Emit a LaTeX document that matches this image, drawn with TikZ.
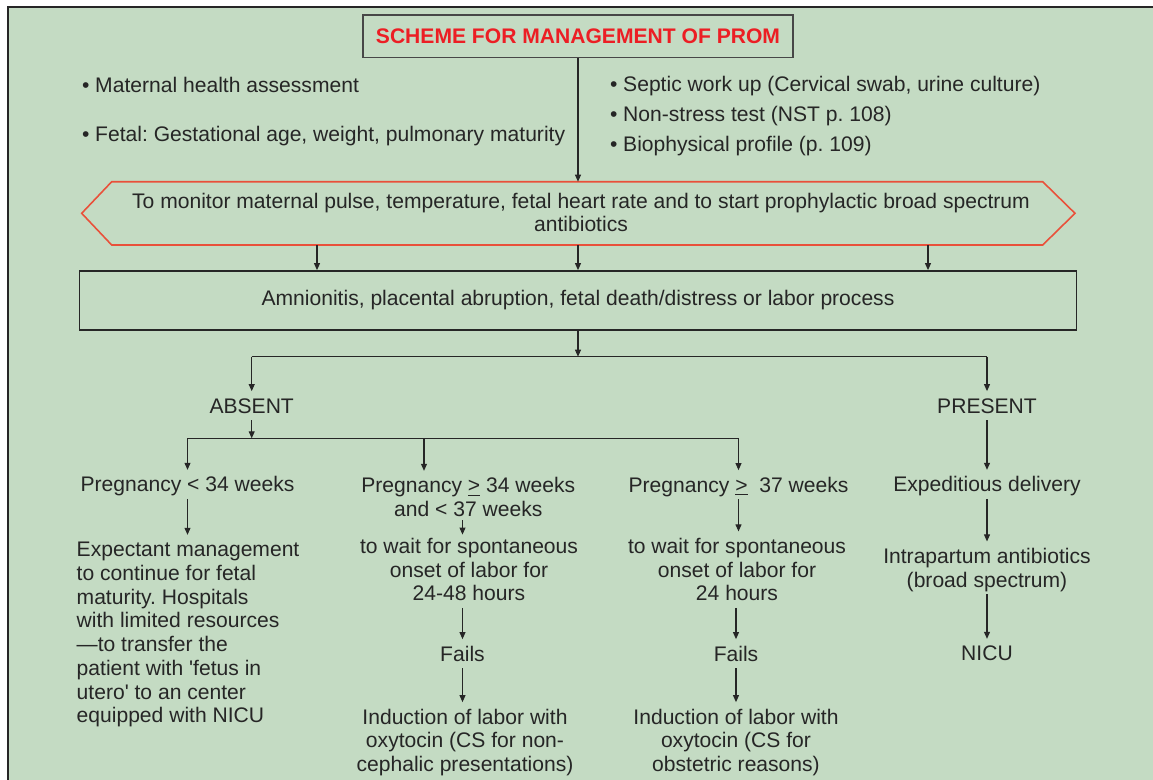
\documentclass[tikz,border=0pt]{standalone}
\usepackage{fontspec}
\setmainfont{Liberation Sans}
\usepackage{tikz}
\usetikzlibrary{calc}
\usetikzlibrary{arrows.meta}
\usepackage{xcolor}
\definecolor{bggreen}{RGB}{196,219,195}
\definecolor{hexred}{RGB}{233,80,58}
\definecolor{titlered}{RGB}{236,30,36}
\definecolor{ink}{RGB}{38,38,38}
\frenchspacing
\newcommand{\txtrows}[2][c]{\begin{tabular}[t]{@{}#1@{}}#2\end{tabular}}

\begin{document}
\begin{tikzpicture}[x=0.02cm, y=-0.02cm,
    txt/.style={inner sep=0pt, outer sep=0pt, anchor=base, text=ink, font=\fontsize{12}{13.5}\selectfont},
    arr/.style={draw=ink, line width=0.6pt, -{Triangle[length=4pt,width=3.4pt]}},
    arrt/.style={arr, shorten >=3pt},
    rail/.style={draw=ink, line width=0.6pt}]
    \useasboundingbox (0,0) rectangle (1153,779);
    \clip (0,0) rectangle (1153,779);
    % Frame
    \draw[line width=1.5pt, draw=ink, fill=bggreen] (8,7) rectangle (1200,830);

    % Title
    \node[draw=ink!85, line width=0.9pt, minimum width=8.6cm, minimum height=0.85cm, inner sep=0pt,
          font=\fontsize{12}{13.5}\selectfont\bfseries, text=titlered] (title) at (578,36.3)
          {SCHEME FOR MANAGEMENT OF PROM};

    % Assessment
    \node[txt, anchor=base west] (mat) at (82,92.3) {\txtrows{\textbullet\ Maternal health assessment}};
    \node[txt, anchor=base west] (fet) at (82,141.7) {\txtrows{\textbullet\ Fetal: Gestational age, weight, pulmonary maturity}};
    \foreach \chk [count=\i] in {{Septic work up (Cervical swab, urine culture)},
                                {Non-stress test (NST p. 108)},
                                {Biophysical profile (p. 109)}}
    {
    \node[txt, anchor=base west] (chk-\i) at (610,61.7+30*\i) {\txtrows{\textbullet\ \chk}};
    }

    % Monitoring
    \node[txt] (monitor) at (581,208) {\txtrows{To monitor maternal pulse, temperature, fetal heart rate and to start prophylactic broad spectrum\\antibiotics}};
    \draw[hexred, line width=0.9pt] (81.7,213.3) -- (111.7,181.7) -- (1042.7,181.7) -- (1075,213.3)
        -- (1042.7,245) -- (111.7,245) -- cycle;
    \coordinate (hextop) at (578,181.7);
    \draw[arr] (title.south) -- (hextop);

    % Complications
    \node[draw=ink, line width=1pt, minimum width=19.94cm, minimum height=1.18cm, inner sep=0pt,
          text=ink, font=\fontsize{12}{13.5}\selectfont] (causes) at (578,300.5)
          {Amnionitis, placental abruption, fetal death/distress or labor process};
    \foreach \x [count=\i] in {317,578,928}
    {
    \coordinate (drop-\i) at (\x,245);
    \draw[arr] (drop-\i) -- (drop-\i |- causes.north);
    }

    % Absent / present
    \node[txt] (absent) at (251.7,413) {\txtrows{ABSENT}};
    \node[txt] (present) at (987,413) {\txtrows{PRESENT}};
    \coordinate (rail1) at (578,356.7);
    \draw[arr] (causes.south) -- (rail1);
    \draw[rail] (rail1 -| absent) -- (rail1 -| present);
    \draw[arrt] (rail1 -| absent) -- (absent.north);
    \draw[arrt] (rail1 -| present) -- (present.north);

    % Absent branch
    \node[txt] (preg1) at (187.5,491.7) {\txtrows{Pregnancy < 34 weeks}};
    \node[txt] (preg2) at (468.3,492.7) {\txtrows{Pregnancy \underline{>} 34 weeks\\and < 37 weeks}};
    \node[txt] (preg3) at (738.5,492) {\txtrows{Pregnancy \underline{>}\ \ 37 weeks}};
    \coordinate (rail2) at (251.7,438.3);
    \coordinate (fork2) at (424,438.3);
    \draw[arr] (absent.south) -- (rail2);
    \draw[rail] (rail2 -| preg1) -- (rail2 -| preg3);
    \draw[arrt] (rail2 -| preg1) -- (preg1.north);
    \draw[arrt] (fork2) -- (fork2 |- preg2.north);
    \draw[arrt] (rail2 -| preg3) -- (preg3.north);

    % Before 34 weeks
    \node[txt, anchor=base west] (expect) at (76.7,556.7) {\txtrows[l]{Expectant management\\to continue for fetal\\maturity. Hospitals\\with limited resources\\---to transfer the\\patient with \textquotesingle fetus in\\utero\textquotesingle\ to an center\\equipped with NICU}};
    \draw[arrt] (preg1.south) -- (preg1 |- expect.north);

    % 34 to 37 weeks
    \node[txt] (wait2) at (469,553.3) {\txtrows{to wait for spontaneous\\onset of labor for\\24-48 hours}};
    \node[txt] (fails2) at (462.5,661) {\txtrows{Fails}};
    \node[txt] (induct2) at (465,724) {\txtrows{Induction of labor with\\oxytocin (CS for non-\\cephalic presentations)}};
    \draw[arr, shorten <=-1.8pt, shorten >=1.2pt] (fails2 |- preg2.south) -- (fails2 |- wait2.north);
    \draw[arrt] (fails2 |- wait2.south) -- (fails2.north);
    \draw[arrt] (fails2.south) -- (fails2 |- induct2.north);

    % After 37 weeks
    \node[txt] (wait3) at (737,553.3) {\txtrows{to wait for spontaneous\\onset of labor for\\24 hours}};
    \node[txt] (fails3) at (736,661) {\txtrows{Fails}};
    \node[txt] (induct3) at (736,724) {\txtrows{Induction of labor with\\oxytocin (CS for\\obstetric reasons)}};
    \draw[arrt] (preg3.south) -- (preg3 |- wait3.north);
    \draw[arrt] (fails3 |- wait3.south) -- (fails3.north);
    \draw[arrt] (fails3.south) -- (fails3 |- induct3.north);

    % Present branch
    \node[txt] (deliv) at (987,491.7) {\txtrows{Expeditious delivery}};
    \node[txt] (antib) at (987,563.3) {\txtrows{Intrapartum antibiotics\\(broad spectrum)}};
    \node[txt] (nicu) at (987,660.7) {\txtrows{NICU}};
    \draw[arrt] (present.south) -- (deliv.north);
    \draw[arrt] (deliv.south) -- (antib.north);
    \draw[arrt] (antib.south) -- (nicu.north);
\end{tikzpicture}
\end{document}
